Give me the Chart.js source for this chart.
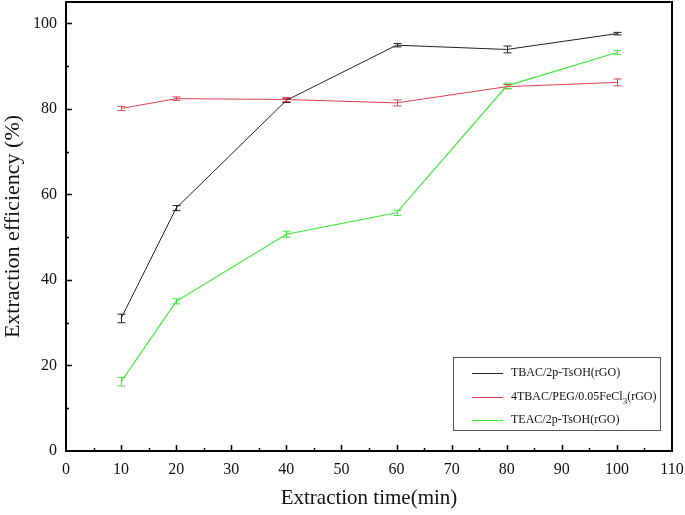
<!DOCTYPE html>
<html>
<head>
<meta charset="utf-8">
<script src="https://cdn.jsdelivr.net/npm/chart.js@4.4.1/dist/chart.umd.min.js"></script>
<style>
  html, body { margin: 0; padding: 0; background: #fff; }
  #wrap { width: 685px; height: 515px; }
</style>
</head>
<body>
<div id="wrap"><canvas id="myChart"></canvas></div>
<script>
// data
const times = [10, 20, 40, 60, 80, 100];
const tbacVals = [31.0, 56.8, 82.0, 94.9, 93.9, 97.6];
const tbacErr  = [1.0, 0.6, 0.5, 0.4, 0.8, 0.3];
const febVals  = [80.1, 82.4, 82.2, 81.4, 85.2, 86.2];
const febErr   = [0.5, 0.4, 0.5, 0.7, 0.5, 0.8];
const teacVals = [16.2, 35.0, 50.7, 55.7, 85.4, 93.2];
const teacErr  = [1.0, 0.6, 0.7, 0.6, 0.6, 0.5];
const seriesNames = ['TBAC/2p-TsOH(rGO)', '4TBAC/PEG/0.05FeCl3(rGO)', 'TEAC/2p-TsOH(rGO)'];
const xTicks = [0, 10, 20, 30, 40, 50, 60, 70, 80, 90, 100, 110];
const yTicks = [0, 20, 40, 60, 80, 100];

const serif = "'Liberation Serif', 'DejaVu Serif', serif";

function pts(vals) {
    return times.map((t, i) => ({x: t, y: vals[i]}));
}

// frame, inward ticks, error bars, legend box
const decor = {
    id: 'decor',
    afterDatasetsDraw(chart) {
        const ctx = chart.ctx;
        const xs = chart.scales.x, ys = chart.scales.y;
        const a = chart.chartArea;

        // error bars
        chart.data.datasets.forEach((ds) => {
            ctx.save();
            ctx.strokeStyle = ds.borderColor;
            ctx.lineWidth = 1;
            ds.data.forEach((p, i) => {
                const e = ds.err[i];
                const px = Math.round(xs.getPixelForValue(p.x)) + 0.5;
                const y1 = ys.getPixelForValue(p.y + e);
                const y2 = ys.getPixelForValue(p.y - e);
                ctx.beginPath();
                ctx.moveTo(px, y1); ctx.lineTo(px, y2);
                ctx.moveTo(px - 4, y1); ctx.lineTo(px + 4, y1);
                ctx.moveTo(px - 4, y2); ctx.lineTo(px + 4, y2);
                ctx.stroke();
            });
            ctx.restore();
        });

        ctx.save();
        ctx.strokeStyle = '#000';
        ctx.lineWidth = 2;
        ctx.strokeRect(a.left, a.top, a.right - a.left, a.bottom - a.top);

        // inward ticks, major + minor
        ctx.lineWidth = 1.5;
        ctx.beginPath();
        for (let v = 5; v < 110; v += 5) {
            const px = Math.round(xs.getPixelForValue(v)) + 0.5;
            const len = (v % 10 === 0) ? 6 : 3;
            ctx.moveTo(px, a.bottom); ctx.lineTo(px, a.bottom - len);
        }
        for (let v = 10; v <= 100; v += 10) {
            const py = Math.round(ys.getPixelForValue(v)) + 0.5;
            const len = (v % 20 === 0) ? 6 : 3;
            ctx.moveTo(a.left, py); ctx.lineTo(a.left + len, py);
        }
        ctx.stroke();

        // legend
        const lx = 453, ly = 357, lw = 207, lh = 73;
        ctx.fillStyle = '#fff';
        ctx.fillRect(lx, ly, lw, lh);
        ctx.strokeStyle = '#555';
        ctx.lineWidth = 1;
        ctx.strokeRect(lx + 0.5, ly + 0.5, lw, lh);
        const rows = [373, 397, 420];
        chart.data.datasets.forEach((ds, i) => {
            ctx.strokeStyle = ds.borderColor;
            ctx.beginPath();
            ctx.moveTo(472, rows[i] + 0.5); ctx.lineTo(503, rows[i] + 0.5);
            ctx.stroke();
            ctx.fillStyle = '#111';
            ctx.font = '12px ' + serif;
            ctx.textBaseline = 'middle';
            ctx.textAlign = 'left';
            const name = ds.label;
            const m = name.match(/^(.*FeCl)(3)(.*)$/);
            if (m) {
                let x = 511;
                ctx.fillText(m[1], x, rows[i]);
                x += ctx.measureText(m[1]).width;
                ctx.font = '9px ' + serif;
                ctx.fillText(m[2], x, rows[i] + 5);
                x += ctx.measureText(m[2]).width;
                ctx.font = '12px ' + serif;
                ctx.fillText(m[3], x, rows[i]);
            } else {
                ctx.fillText(name, 511, rows[i]);
            }
        });
        ctx.restore();
    }
};

function noPad(s) {
    s.paddingTop = 0; s.paddingBottom = 0;
    s.paddingLeft = 0; s.paddingRight = 0;
}

const myChart = new Chart(document.getElementById('myChart'), {
    type: 'line',
    data: {
        datasets: [{
            label: seriesNames[0],
            data: pts(tbacVals),
            err: tbacErr,
            borderColor: '#222222',
            borderWidth: 1,
            pointRadius: 0,
        }, {
            label: seriesNames[1],
            data: pts(febVals),
            err: febErr,
            borderColor: '#d9414e',
            borderWidth: 1,
            pointRadius: 0,
        }, {
            label: seriesNames[2],
            data: pts(teacVals),
            err: teacErr,
            borderColor: '#3ee83a',
            borderWidth: 1.2,
            pointRadius: 0,
        }]
    },
    options: {
        responsive: true,
        maintainAspectRatio: false,
        animation: false,
        layout: { padding: { top: 2, right: 13, left: 0, bottom: 0 } },
        plugins: {
            legend: { display: false },
            tooltip: { enabled: false }
        },
        scales: {
            x: {
                type: 'linear',
                min: 0,
                max: 110,
                afterBuildTicks: (s) => { s.ticks = xTicks.map(v => ({value: v})); },
                afterFit: (s) => { s.height = 64; noPad(s); },
                grid: { display: false, drawTicks: false },
                border: { display: false },
                ticks: {
                    padding: 9,
                    color: '#111',
                    font: { size: 16, family: serif }
                },
                title: {
                    display: true,
                    text: 'Extraction time(min)',
                    color: '#111',
                    padding: { top: 4, bottom: 4 },
                    font: { size: 21, family: serif }
                }
            },
            y: {
                type: 'linear',
                min: 0,
                max: 105,
                afterBuildTicks: (s) => { s.ticks = yTicks.map(v => ({value: v})); },
                afterFit: (s) => { s.width = 66; noPad(s); },
                grid: { display: false, drawTicks: false },
                border: { display: false },
                ticks: {
                    padding: 9,
                    color: '#111',
                    font: { size: 16, family: serif }
                },
                title: {
                    display: true,
                    text: 'Extraction efficiency (%)',
                    color: '#111',
                    padding: { top: 0, bottom: 0 },
                    font: { size: 22, family: serif }
                }
            }
        }
    },
    plugins: [decor]
});
</script>
</body>
</html>
